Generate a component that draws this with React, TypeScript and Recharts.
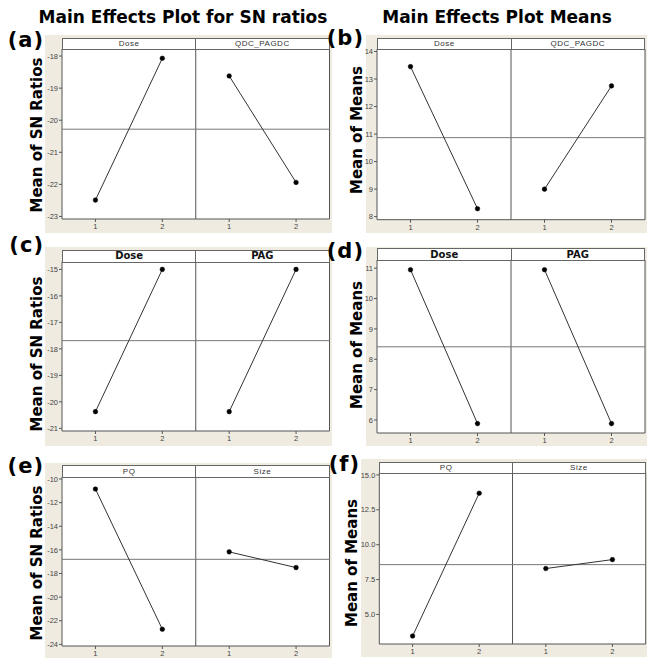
import {
  LineChart,
  Line,
  XAxis,
  YAxis,
  ReferenceLine,
  ReferenceArea,
} from "recharts";

// factor levels for each sub-plot (second factor shifted to 3, 4 on the shared axis)
const levelsA = [1, 2];
const levelsB = [3, 4];

// (a) SN ratios: Dose, QDC_PAGDC
const snDoseA = [-22.49, -18.07];
const snQdcA = [-18.62, -21.94];
// (b) means: Dose, QDC_PAGDC
const meanDoseB = [13.45, 8.29];
const meanQdcB = [9.0, 12.75];
// (c) SN ratios: Dose, PAG
const snDoseC = [-20.37, -15.0];
const snPagC = [-20.37, -15.0];
// (d) means: Dose, PAG
const meanDoseD = [10.95, 5.88];
const meanPagD = [10.95, 5.88];
// (e) SN ratios: PQ, Size
const snPqE = [-10.85, -22.72];
const snSizeE = [-16.17, -17.5];
// (f) means: PQ, Size
const meanPqF = [3.45, 13.69];
const meanSizeF = [8.29, 8.93];

// grand means (horizontal reference lines)
const grandMeans = [-20.28, 10.87, -17.69, 8.41, -16.8, 8.57];

const yTicksA = [-23, -22, -21, -20, -19, -18];
const yTicksB = [8, 9, 10, 11, 12, 13, 14];
const yTicksC = [-21, -20, -19, -18, -17, -16, -15];
const yTicksD = [6, 7, 8, 9, 10, 11];
const yTicksE = [-24, -22, -20, -18, -16, -14, -12, -10];
const yTicksF = [5, 7.5, 10, 12.5, 15];

const xTickLabels = ["1", "2", "1", "2"];

const toPoints = (xs: number[], ys: number[]) =>
  xs.map((x, i) => ({ x, y: ys[i] }));

const BEIGE = "#efebe0";
const FONT = "'DejaVu Sans', Verdana, sans-serif";
const SMALL = "'Liberation Sans', Arial, sans-serif";

type PanelProps = {
  tag: string;
  tagPos: [number, number];
  yLabel: string;
  yLabelPos: [number, number];
  box: [number, number, number, number]; // left, top, right, bottom
  plot: [number, number, number, number];
  headerTop: number;
  headers: [string, string];
  boldHeader?: boolean;
  domain: [number, number];
  ticks: number[];
  tickFmt?: (v: number) => string;
  a: number[];
  b: number[];
  mean: number;
};

const Panel = (p: PanelProps) => {
  const [bl, bt, br, bb] = p.box;
  const [pl, pt, pr, pb] = p.plot;
  const w = br - bl;
  const h = bb - bt;
  return (
    <>
      <div
        style={{
          position: "absolute",
          left: bl,
          top: bt,
          width: w,
          height: h,
          background: BEIGE,
        }}
      >
        <LineChart
          width={w}
          height={h}
          margin={{ top: pt - bt, right: br - pr, bottom: 0, left: 0 }}
        >
          <ReferenceArea
            x1={0.5}
            x2={4.5}
            y1={p.domain[0]}
            y2={p.domain[1]}
            fill="#ffffff"
            fillOpacity={1}
            stroke="#555"
            strokeWidth={1}
            ifOverflow="extendDomain"
          />
          <XAxis
            type="number"
            dataKey="x"
            domain={[0.5, 4.5]}
            ticks={[1, 2, 3, 4]}
            tickFormatter={(v) => xTickLabels[v - 1]}
            allowDataOverflow
            height={bb - pb}
            axisLine={false}
            tickSize={3}
            tickMargin={2}
            tick={{ fontSize: 7.5, fill: "#444", fontFamily: SMALL }}
            tickLine={{ stroke: "#555" }}
          />
          <YAxis
            type="number"
            dataKey="y"
            domain={p.domain}
            ticks={p.ticks}
            tickFormatter={p.tickFmt}
            allowDataOverflow
            width={pl - bl}
            axisLine={false}
            tickSize={3}
            tickMargin={1}
            tick={{ fontSize: 7.5, fill: "#444", fontFamily: SMALL }}
            tickLine={{ stroke: "#555" }}
          />
          <ReferenceLine x={2.5} stroke="#555" strokeWidth={1} />
          <ReferenceLine y={p.mean} stroke="#777" strokeWidth={1} />
          <Line
            data={toPoints(levelsA, p.a)}
            dataKey="y"
            stroke="#333"
            strokeWidth={1}
            dot={{ r: 2.3, fill: "#000", stroke: "#000", strokeWidth: 0.5 }}
            isAnimationActive={false}
          />
          <Line
            data={toPoints(levelsB, p.b)}
            dataKey="y"
            stroke="#333"
            strokeWidth={1}
            dot={{ r: 2.3, fill: "#000", stroke: "#000", strokeWidth: 0.5 }}
            isAnimationActive={false}
          />
        </LineChart>
      </div>
      <div
        style={{
          position: "absolute",
          left: pl,
          top: p.headerTop,
          width: pr - pl,
          height: pt - p.headerTop + 1,
          boxSizing: "border-box",
          border: "1px solid #666",
          background: "#fff",
          display: "flex",
        }}
      >
        {p.headers.map((t, i) => (
          <div
            key={t}
            style={{
              flex: 1,
              borderRight: i === 0 ? "1px solid #666" : "none",
              textAlign: "center",
              fontFamily: p.boldHeader ? FONT : SMALL,
              fontSize: p.boldHeader ? 10 : 8,
              fontWeight: p.boldHeader ? "bold" : "normal",
              color: p.boldHeader ? "#111" : "#333",
              lineHeight: `${pt - p.headerTop - 1}px`,
              letterSpacing: p.boldHeader ? 0 : 0.5,
            }}
          >
            {t}
          </div>
        ))}
      </div>
      <div
        style={{
          position: "absolute",
          left: p.tagPos[0],
          top: p.tagPos[1],
          transform: "translate(-100%, -50%)",
          fontFamily: FONT,
          fontWeight: "bold",
          fontSize: 21,
          letterSpacing: 1,
          whiteSpace: "nowrap",
        }}
      >
        {p.tag}
      </div>
      <div
        style={{
          position: "absolute",
          left: p.yLabelPos[0],
          top: p.yLabelPos[1],
          transform: "translate(-50%, -50%) rotate(-90deg)",
          fontFamily: FONT,
          fontWeight: "bold",
          fontSize: 15,
          whiteSpace: "nowrap",
        }}
      >
        {p.yLabel}
      </div>
    </>
  );
};

const fmtOne = (v: number) => v.toFixed(1);

export default function App() {
  return (
    <div
      style={{
        position: "absolute",
        left: 0,
        top: 0,
        width: 654,
        height: 658,
        background: "#fff",
        overflow: "hidden",
      }}
    >
      <style>{"svg.recharts-surface{overflow:visible}"}</style>
      <div
        style={{
          position: "absolute",
          left: 183,
          top: 17,
          transform: "translate(-50%, -50%)",
          fontFamily: FONT,
          fontWeight: "bold",
          fontSize: 17,
          whiteSpace: "nowrap",
        }}
      >
        Main Effects Plot for SN ratios
      </div>
      <div
        style={{
          position: "absolute",
          left: 497,
          top: 17,
          transform: "translate(-50%, -50%)",
          fontFamily: FONT,
          fontWeight: "bold",
          fontSize: 17,
          whiteSpace: "nowrap",
        }}
      >
        Main Effects Plot Means
      </div>

      <Panel
        tag="(a)"
        tagPos={[44, 40]}
        yLabel="Mean of SN Ratios"
        yLabelPos={[37, 135]}
        box={[45, 35, 332, 233]}
        plot={[62, 49, 329.5, 219]}
        headerTop={38}
        headers={["Dose", "QDC_PAGDC"]}
        domain={[-23.08, -17.78]}
        ticks={yTicksA}
        a={snDoseA}
        b={snQdcA}
        mean={grandMeans[0]}
      />
      <Panel
        tag="(b)"
        tagPos={[364, 38]}
        yLabel="Mean of Means"
        yLabelPos={[357, 130]}
        box={[366, 35, 647, 233]}
        plot={[377, 49, 645, 219.7]}
        headerTop={38}
        headers={["Dose", "QDC_PAGDC"]}
        domain={[7.89, 14.09]}
        ticks={yTicksB}
        a={meanDoseB}
        b={meanQdcB}
        mean={grandMeans[1]}
      />
      <Panel
        tag="(c)"
        tagPos={[44, 245]}
        yLabel="Mean of SN Ratios"
        yLabelPos={[37, 354]}
        box={[45, 247, 332, 446]}
        plot={[62, 261.7, 329.5, 431]}
        headerTop={250}
        headers={["Dose", "PAG"]}
        boldHeader
        domain={[-21.1, -14.71]}
        ticks={yTicksC}
        a={snDoseC}
        b={snPagC}
        mean={grandMeans[2]}
      />
      <Panel
        tag="(d)"
        tagPos={[364, 251]}
        yLabel="Mean of Means"
        yLabelPos={[357, 345]}
        box={[366, 247, 647, 446]}
        plot={[377, 260, 645, 433]}
        headerTop={248}
        headers={["Dose", "PAG"]}
        boldHeader
        domain={[5.57, 11.27]}
        ticks={yTicksD}
        a={meanDoseD}
        b={meanPagD}
        mean={grandMeans[3]}
      />
      <Panel
        tag="(e)"
        tagPos={[44, 466]}
        yLabel="Mean of SN Ratios"
        yLabelPos={[37, 563]}
        box={[45, 463, 332, 660]}
        plot={[62, 477, 329.5, 646]}
        headerTop={465}
        headers={["PQ", "Size"]}
        domain={[-24.14, -9.83]}
        ticks={yTicksE}
        a={snPqE}
        b={snSizeE}
        mean={grandMeans[4]}
      />
      <Panel
        tag="(f)"
        tagPos={[360, 464]}
        yLabel="Mean of Means"
        yLabelPos={[352, 563]}
        box={[361, 459, 647, 657]}
        plot={[379.3, 472.7, 645.7, 644]}
        headerTop={462}
        headers={["PQ", "Size"]}
        domain={[2.88, 15.16]}
        ticks={yTicksF}
        tickFmt={fmtOne}
        a={meanPqF}
        b={meanSizeF}
        mean={grandMeans[5]}
      />
    </div>
  );
}
